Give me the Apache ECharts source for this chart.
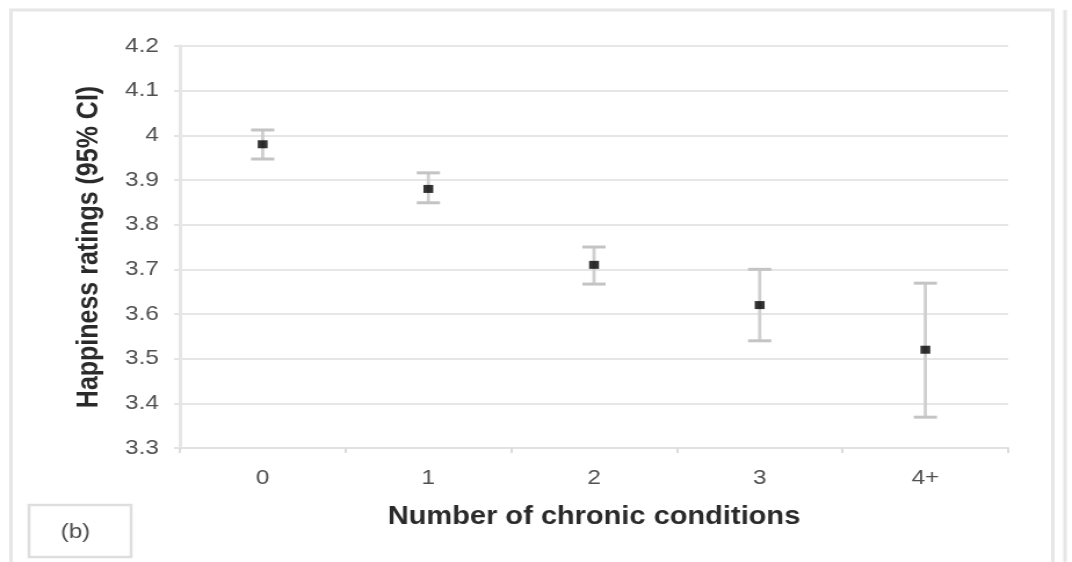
<!DOCTYPE html>
<html>
<head>
<meta charset="utf-8">
<script src="https://cdn.jsdelivr.net/npm/echarts@6/dist/echarts.min.js"></script>
<style>
  html, body { margin: 0; padding: 0; background: #fff; overflow: hidden; }
  #chart { width: 924px; height: 562px; transform: scaleX(1.16017); transform-origin: 0 0; }
</style>
</head>
<body>
<div id="chart"></div>
<script>
// ---- data ----
const categories = ['0', '1', '2', '3', '4+'];
const meanValues = [3.98, 3.88, 3.71, 3.62, 3.52];
const upperValues = [4.012, 3.916, 3.75, 3.70, 3.669];
const lowerValues = [3.947, 3.849, 3.667, 3.54, 3.369];
const xAxisTitle = 'Number of chronic conditions';
const yAxisTitle = 'Happiness ratings (95% CI)';
const panelLabel = '(b)';

const chart = echarts.init(document.getElementById('chart'));

const errorData = categories.map((c, i) => [i, lowerValues[i], upperValues[i]]);
const pointData = categories.map((c, i) => [i, meanValues[i]]);

const option = {
  animation: false,
  backgroundColor: '#ffffff',
  textStyle: { fontFamily: '"Liberation Sans", Arial, sans-serif' },
  grid: { left: 155, right: 55, top: 46, bottom: 114, containLabel: false },
  xAxis: {
    type: 'category',
    data: categories,
    boundaryGap: true,
    axisLine: { show: true, lineStyle: { color: '#e2e2e2', width: 2 } },
    axisTick: { show: true, length: 5, lineStyle: { color: '#dcdcdc', width: 2 } },
    axisLabel: { color: '#505050', fontSize: 21, margin: 20, fontFamily: '"Liberation Sans", Arial, sans-serif' },
    splitLine: { show: false },
    name: xAxisTitle,
    nameLocation: 'middle',
    nameGap: 57,
    nameTextStyle: { color: '#2a2a2a', fontSize: 25, fontWeight: 'bold', fontFamily: '"Liberation Sans", Arial, sans-serif' }
  },
  yAxis: {
    type: 'value',
    min: 3.3,
    max: 4.2,
    interval: 0.1,
    axisLine: { show: true, lineStyle: { color: '#e6e6e6', width: 3 } },
    axisTick: { show: true, length: 5, lineStyle: { color: '#e4e4e4', width: 2 } },
    axisLabel: {
      color: '#505050', fontSize: 21, margin: 18,
      fontFamily: '"Liberation Sans", Arial, sans-serif',
      formatter: v => String(+v.toFixed(1))
    },
    splitLine: { show: true, lineStyle: { color: '#e6e6e6', width: 2 } },
    name: yAxisTitle,
    nameLocation: 'middle',
    nameRotate: 90,
    nameGap: 65,
    nameTextStyle: { color: '#2a2a2a', fontSize: 25, fontWeight: 'bold', fontFamily: '"Liberation Sans", Arial, sans-serif' }
  },
  series: [
    {
      type: 'custom',
      name: 'CI',
      data: errorData,
      z: 2,
      renderItem: function (params, api) {
        const x = api.value(0);
        const lo = api.coord([x, api.value(1)]);
        const hi = api.coord([x, api.value(2)]);
        const half = 10;
        const style = { stroke: '#cfcfcf', lineWidth: 2.8 };
        return {
          type: 'group',
          children: [
            { type: 'line', shape: { x1: hi[0], y1: hi[1], x2: lo[0], y2: lo[1] }, style: style },
            { type: 'line', shape: { x1: hi[0] - half, y1: hi[1], x2: hi[0] + half, y2: hi[1] }, style: { stroke: '#c4c4c4', lineWidth: 3 } },
            { type: 'line', shape: { x1: lo[0] - half, y1: lo[1], x2: lo[0] + half, y2: lo[1] }, style: { stroke: '#c4c4c4', lineWidth: 3 } }
          ]
        };
      }
    },
    {
      type: 'scatter',
      name: 'Mean',
      data: pointData,
      z: 5,
      symbol: 'rect',
      symbolSize: [8.5, 8],
      itemStyle: { color: '#000000' }
    }
  ],
  graphic: [
    {
      type: 'rect',
      shape: { x: 9.5, y: 10, width: 898, height: 600 },
      style: { fill: null, stroke: '#e6e6e6', lineWidth: 3 },
      silent: true
    },
    {
      type: 'line',
      shape: { x1: 918, y1: 10, x2: 918, y2: 600 },
      style: { stroke: '#e6e6e6', lineWidth: 3 },
      silent: true
    },
    {
      type: 'rect',
      shape: { x: 25, y: 505, width: 88, height: 52 },
      style: { fill: '#fff', stroke: '#dedede', lineWidth: 2.5 },
      silent: true
    },
    {
      type: 'text',
      x: 65, y: 532,
      style: {
        text: panelLabel,
        fill: '#505050',
        font: '21px "Liberation Sans", Arial, sans-serif',
        textAlign: 'center',
        textVerticalAlign: 'middle'
      },
      silent: true
    }
  ]
};

chart.setOption(option);
</script>
</body>
</html>
